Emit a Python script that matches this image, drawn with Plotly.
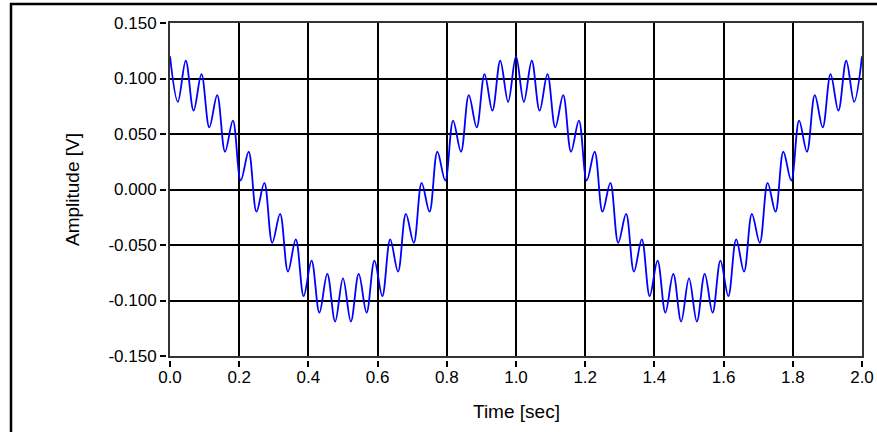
import plotly.graph_objects as go

# ---- data (peaks / troughs of the waveform) ----
time_s = [
    0.0000, 0.0227, 0.0455, 0.0682, 0.0909, 0.1136, 0.1364, 0.1591, 0.1818, 0.2045,
    0.2273, 0.2500, 0.2727, 0.2955, 0.3182, 0.3409, 0.3636, 0.3864, 0.4091, 0.4318,
    0.4545, 0.4773, 0.5000, 0.5227, 0.5455, 0.5682, 0.5909, 0.6136, 0.6364, 0.6591,
    0.6818, 0.7045, 0.7273, 0.7500, 0.7727, 0.7955, 0.8182, 0.8409, 0.8636, 0.8864,
    0.9091, 0.9318, 0.9545, 0.9773, 1.0000,
    1.0227, 1.0455, 1.0682, 1.0909, 1.1136, 1.1364, 1.1591, 1.1818, 1.2045,
    1.2273, 1.2500, 1.2727, 1.2955, 1.3182, 1.3409, 1.3636, 1.3864, 1.4091, 1.4318,
    1.4545, 1.4773, 1.5000, 1.5227, 1.5455, 1.5682, 1.5909, 1.6136, 1.6364, 1.6591,
    1.6818, 1.7045, 1.7273, 1.7500, 1.7727, 1.7955, 1.8182, 1.8409, 1.8636, 1.8864,
    1.9091, 1.9318, 1.9545, 1.9773, 2.0000,
]
amplitude_v = [
    0.120, 0.079, 0.116, 0.071, 0.104, 0.056, 0.085, 0.034, 0.062, 0.008,
    0.034, -0.020, 0.006, -0.048, -0.022, -0.074, -0.045, -0.096, -0.064, -0.111,
    -0.076, -0.119, -0.080, -0.119, -0.076, -0.111, -0.064, -0.096, -0.045, -0.074,
    -0.022, -0.048, 0.006, -0.020, 0.034, 0.008, 0.062, 0.034, 0.085, 0.056,
    0.104, 0.071, 0.116, 0.079, 0.120,
    0.079, 0.116, 0.071, 0.104, 0.056, 0.085, 0.034, 0.062, 0.008,
    0.034, -0.020, 0.006, -0.048, -0.022, -0.074, -0.045, -0.096, -0.064, -0.111,
    -0.076, -0.119, -0.080, -0.119, -0.076, -0.111, -0.064, -0.096, -0.045, -0.074,
    -0.022, -0.048, 0.006, -0.020, 0.034, 0.008, 0.062, 0.034, 0.085, 0.056,
    0.104, 0.071, 0.116, 0.079, 0.120,
]
x_tick_vals = [0.0, 0.2, 0.4, 0.6, 0.8, 1.0, 1.2, 1.4, 1.6, 1.8, 2.0]
x_tick_text = ["0.0", "0.2", "0.4", "0.6", "0.8", "1.0", "1.2", "1.4", "1.6", "1.8", "2.0"]
y_tick_vals = [0.15, 0.10, 0.05, 0.0, -0.05, -0.10, -0.15]
y_tick_text = ["0.150", "0.100", "0.050", "0.000", "-0.050", "-0.100", "-0.150"]
x_title = "Time [sec]"
y_title = "Amplitude [V]"

# ---- layout geometry (pixels) ----
W, H = 877, 432
ML, MR, MT, MB = 166, 15, 23, 72
GAP = 4
PW = W - ML - MR
PH = H - MT - MB
dx = GAP / PW
dy = GAP / PH

FONT = "Liberation Sans, Arial, sans-serif"


def px_to_paper_x(px):
    return (px - ML) / PW


def px_to_paper_y(py):
    return 1 - (py - MT) / PH


fig = go.Figure()
fig.add_trace(go.Scatter(
    x=time_s, y=amplitude_v, mode="lines",
    line=dict(color="#0000FF", width=1.8, shape="spline", smoothing=1.0),
    xaxis="x", yaxis="y", showlegend=False, hoverinfo="x+y",
))
# invisible trace carrying the offset tick axes
fig.add_trace(go.Scatter(
    x=[0, 2], y=[0, 0], mode="lines", line=dict(width=0), opacity=0,
    xaxis="x2", yaxis="y2", showlegend=False, hoverinfo="skip",
))

fig.update_layout(
    width=W, height=H,
    margin=dict(l=ML, r=MR, t=MT, b=MB, autoexpand=False),
    paper_bgcolor="white", plot_bgcolor="white",
    font=dict(family=FONT, size=17, color="black"),
    xaxis=dict(
        domain=[dx, 1], range=[0, 2], tickvals=x_tick_vals,
        showgrid=True, gridcolor="black", gridwidth=1.5,
        showline=True, mirror=True, linecolor="#333333", linewidth=2,
        ticks="", showticklabels=False, zeroline=False, automargin=False,
    ),
    yaxis=dict(
        domain=[dy, 1], range=[-0.15, 0.15], tickvals=y_tick_vals,
        showgrid=True, gridcolor="black", gridwidth=1.5,
        showline=True, mirror=True, linecolor="#333333", linewidth=2,
        ticks="", showticklabels=False, zeroline=False, automargin=False,
    ),
    xaxis2=dict(
        overlaying="x", matches="x", anchor="free", position=0, side="bottom",
        range=[0, 2], tickvals=x_tick_vals, ticktext=x_tick_text,
        ticks="outside", ticklen=6, tickwidth=1.5, tickcolor="black",
        ticklabelstandoff=-4,
        showgrid=False, showline=False, zeroline=False, automargin=False,
    ),
    yaxis2=dict(
        overlaying="y", matches="y", anchor="free", position=0, side="left",
        range=[-0.15, 0.15], tickvals=y_tick_vals, ticktext=y_tick_text,
        ticks="outside", ticklen=6, tickwidth=1.5, tickcolor="black",
        showgrid=False, showline=False, zeroline=False, automargin=False,
    ),
    annotations=[
        dict(text=x_title, xref="paper", yref="paper",
             x=px_to_paper_x(516), y=px_to_paper_y(411),
             xanchor="center", yanchor="middle", showarrow=False,
             font=dict(family=FONT, size=19, color="black")),
        dict(text=y_title, xref="paper", yref="paper",
             x=px_to_paper_x(72), y=px_to_paper_y(190),
             xanchor="center", yanchor="middle", showarrow=False, textangle=-90,
             font=dict(family=FONT, size=19, color="black")),
    ],
    shapes=[
        dict(type="line", xref="paper", yref="paper",
             x0=px_to_paper_x(10), x1=px_to_paper_x(W + 5),
             y0=px_to_paper_y(4), y1=px_to_paper_y(4),
             line=dict(color="black", width=2.5)),
        dict(type="line", xref="paper", yref="paper",
             x0=px_to_paper_x(11), x1=px_to_paper_x(11),
             y0=px_to_paper_y(3), y1=px_to_paper_y(H + 5),
             line=dict(color="black", width=2.5)),
    ],
)

fig.write_html("out.html")
